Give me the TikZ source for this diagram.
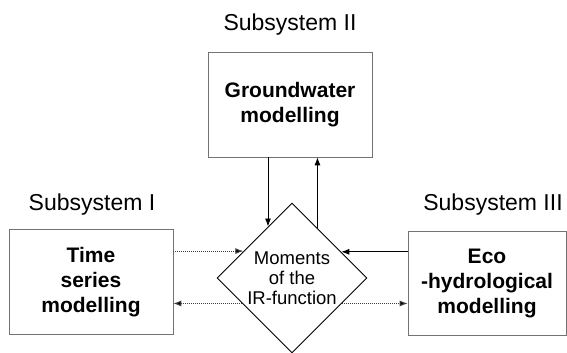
\documentclass[tikz,border=0pt]{standalone}
\usepackage{fontspec}
\setmainfont{Liberation Sans}
\usetikzlibrary{shapes.geometric,arrows.meta}
\begin{document}
\begin{tikzpicture}[x=1pt,y=-1pt,
  modbox/.style={draw=black!55,line width=0.6pt,minimum width=164pt,minimum height=105pt,inner sep=0pt,align=center,font=\fontsize{21}{25}\selectfont\bfseries},
  sublabel/.style={font=\fontsize{23}{26}\selectfont,inner sep=0pt},
  solidarrow/.style={draw=black,line width=0.9pt,-{Latex[length=8pt,width=6pt]}},
  faintarrow/.style={draw=black!75,line width=1pt,densely dotted,-{Latex[length=8pt,width=6pt,fill=black]}}]
\useasboundingbox (0,0) rectangle (567,353);
\node[modbox] (gw) at (290,104.5) {Groundwater\\modelling};
\node[modbox] (ts) at (91,282) {Time\\series\\modelling};
\node[modbox,minimum width=158pt,minimum height=104pt] (eco) at (487,283) {Eco\\-hydrological\\modelling};
\node[sublabel] (l2) at (290,25) {Subsystem II};
\node[sublabel] (l1) at (92,205) {Subsystem I};
\node[sublabel] (l3) at (493,205) {Subsystem III};
\node[diamond,draw=black,line width=0.9pt,minimum width=150pt,minimum height=150pt,inner sep=0pt,shape aspect=1,align=center,font=\fontsize{18.5}{20}\selectfont] (d) at (292,278) {Moments\\of the\\IR-function};
% vertical connectors
\draw[solidarrow] (gw.south -| d.115) -- (d.115);
\draw[solidarrow] (d.63.4) -- (gw.south -| d.63.4);
% left connectors
\draw[faintarrow] (ts.east |- d.151) -- (d.151);
\draw[faintarrow] (d.207) -- (ts.east |- d.207);
% right connectors
\draw[solidarrow] (eco.west |- d.28) -- (d.28);
\draw[faintarrow] (d.333) -- (eco.west |- d.333);
\end{tikzpicture}
\end{document}
